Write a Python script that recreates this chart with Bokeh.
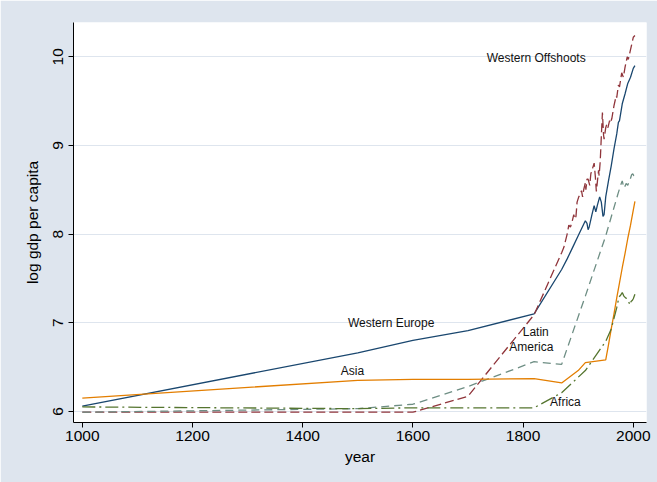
from bokeh.plotting import figure
from bokeh.models import FixedTicker, Range1d, ColumnDataSource
from bokeh.embed import file_html
from bokeh.resources import INLINE
from bokeh.core.properties import value

# ---- data (log GDP per capita) ----
we_years = [1000, 1500, 1600, 1700, 1820, 1870, 1880, 1890, 1900, 1913, 1916, 1918, 1920,
            1925, 1929, 1932, 1935, 1939, 1942, 1945, 1947, 1950, 1955, 1960, 1965, 1970,
            1973, 1975, 1980, 1985, 1990, 1995, 2000, 2003]
we_vals = [6.06, 6.66, 6.80, 6.91, 7.10, 7.60, 7.72, 7.85, 7.98, 8.15, 8.12, 8.05, 8.08,
           8.22, 8.32, 8.25, 8.33, 8.42, 8.36, 8.20, 8.22, 8.42, 8.60, 8.77, 8.96, 9.13,
           9.26, 9.28, 9.47, 9.58, 9.70, 9.77, 9.87, 9.90]

wo_years = [1000, 1500, 1600, 1700, 1820, 1870, 1874, 1880, 1883, 1886, 1889, 1892, 1894,
            1896, 1898, 1901, 1904, 1906, 1908, 1910, 1913, 1914, 1916, 1918, 1921, 1923,
            1926, 1929, 1931, 1933, 1935, 1937, 1938, 1940, 1942, 1944, 1946, 1947, 1950,
            1952, 1954, 1957, 1958, 1961, 1965, 1969, 1970, 1973, 1975, 1979, 1982, 1985,
            1989, 1991, 1995, 2000, 2003]
wo_vals = [5.99, 5.99, 5.99, 6.17, 7.09, 7.79, 7.85, 8.00, 8.10, 8.08, 8.14, 8.22, 8.17,
           8.20, 8.36, 8.42, 8.45, 8.49, 8.42, 8.50, 8.58, 8.50, 8.62, 8.62, 8.55, 8.68,
           8.74, 8.80, 8.66, 8.48, 8.60, 8.72, 8.66, 8.82, 9.10, 9.37, 9.12, 9.07, 9.20,
           9.24, 9.20, 9.28, 9.25, 9.30, 9.45, 9.56, 9.54, 9.68, 9.66, 9.82, 9.77, 9.88,
           10.00, 9.97, 10.08, 10.22, 10.24]

la_years = [1000, 1500, 1600, 1700, 1820, 1870, 1913, 1950, 1973, 1977, 1980, 1983, 1985,
            1987, 1990, 1993, 1995, 1997, 1999, 2001, 2003]
la_vals = [5.99, 6.03, 6.08, 6.28, 6.56, 6.53, 7.30, 7.98, 8.47, 8.55, 8.60, 8.52, 8.54,
           8.57, 8.55, 8.60, 8.63, 8.67, 8.68, 8.66, 8.66]

as_years = [1000, 1500, 1600, 1700, 1820, 1870, 1900, 1913, 1950, 1955, 1960, 1965, 1970,
            1975, 1980, 1985, 1990, 1995, 2000, 2003]
as_vals = [6.15, 6.35, 6.36, 6.36, 6.37, 6.32, 6.46, 6.55, 6.58, 6.75, 6.93, 7.10, 7.28,
           7.45, 7.62, 7.78, 7.95, 8.10, 8.27, 8.37]

af_years = [1000, 1500, 1600, 1700, 1820, 1870, 1913, 1950, 1960, 1970, 1974, 1977, 1980,
            1983, 1986, 1989, 1992, 1994, 1996, 1998, 2000, 2003]
af_vals = [6.05, 6.03, 6.04, 6.04, 6.04, 6.21, 6.46, 6.79, 6.93, 7.17, 7.29, 7.31, 7.34,
           7.30, 7.28, 7.27, 7.23, 7.20, 7.24, 7.25, 7.27, 7.32]

label_text = ["Western Offshoots", "Western Europe", "Latin", "America", "Asia", "Africa"]
label_x = [1734, 1482, 1823, 1815, 1469, 1849]
label_y = [9.99, 7.00, 6.89, 6.73, 6.46, 6.11]
label_align = ["left", "left", "center", "center", "left", "left"]

x_ticks = [1000, 1200, 1400, 1600, 1800, 2000]
y_ticks = [6, 7, 8, 9, 10]

# ---- styling ----
BG = "#dee5ee"
FONT = "Liberation Sans"

p = figure(width=657, height=482, output_backend="svg", toolbar_location=None,
           x_range=Range1d(984, 2024), y_range=Range1d(5.874, 10.387),
           min_border_left=73, min_border_right=11, min_border_top=22, min_border_bottom=60,
           background_fill_color="white", border_fill_color=BG, outline_line_color=None)

p.line(we_years, we_vals, line_color="#1a476f", line_width=1.3)
p.line(wo_years, wo_vals, line_color="#90353b", line_width=1.3, line_dash="9 4")
p.line(la_years, la_vals, line_color="#6e8e84", line_width=1.3, line_dash="8 5")
p.line(as_years, as_vals, line_color="#e37e00", line_width=1.3)
p.line(af_years, af_vals, line_color="#55752f", line_width=1.3, line_dash="13 4 2 4")

src = ColumnDataSource(dict(x=label_x, y=label_y, t=label_text, a=label_align))
p.text(x="x", y="y", text="t", text_align="a", source=src,
       text_baseline="middle", text_font=value(FONT), text_font_size="12px",
       text_color="#111111")

p.xaxis.ticker = FixedTicker(ticks=x_ticks)
p.yaxis.ticker = FixedTicker(ticks=y_ticks)
p.xaxis.axis_label = "year"
p.yaxis.axis_label = "log gdp per capita"
p.yaxis.major_label_orientation = "vertical"

for ax in (p.xaxis[0], p.yaxis[0]):
    ax.axis_line_color = "#000000"
    ax.axis_line_width = 1
    ax.major_tick_line_color = "#000000"
    ax.major_tick_out = 5
    ax.major_tick_in = 0
    ax.minor_tick_line_color = None
    ax.major_label_text_font = FONT
    ax.major_label_text_font_size = "15.5px"
    ax.major_label_text_color = "#000000"
    ax.axis_label_text_font = FONT
    ax.axis_label_text_font_size = "15.5px"
    ax.axis_label_text_font_style = "normal"
    ax.axis_label_text_color = "#000000"

p.xaxis.major_label_standoff = 3
p.xaxis.axis_label_standoff = 4
p.yaxis.major_label_standoff = 5
p.yaxis.axis_label_standoff = 10

p.xgrid.grid_line_color = None
p.ygrid.grid_line_color = BG
p.ygrid.grid_line_width = 1

open("out.html", "w").write(file_html(p, INLINE))
